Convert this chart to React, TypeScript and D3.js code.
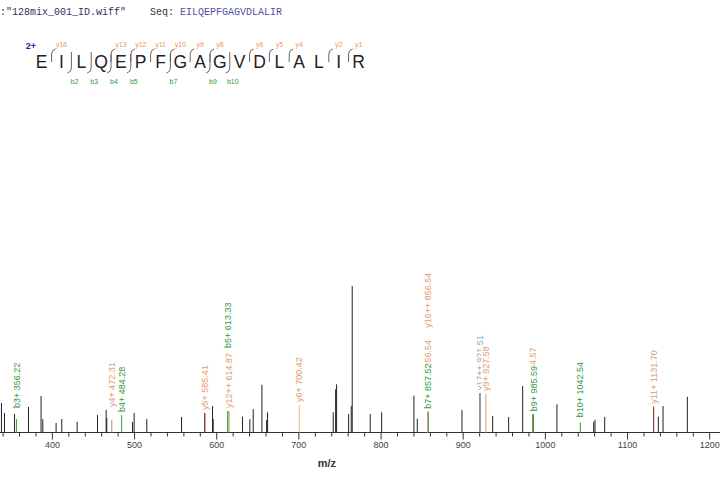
import React, { useEffect, useRef } from "react";
import * as d3 from "d3";

// ---------- header data ----------
const fileName = ':"128mix_001_ID.wiff"';
const seqLabel = "    Seq: ";
const sequence = "EILQEPFGAGVDLALIR";
const precursorCharge = "2+";
const yIonsShown = [16, 13, 12, 11, 10, 9, 8, 6, 5, 4, 2, 1];
const bIonsShown = [2, 3, 4, 5, 7, 9, 10];

// ---------- axis ----------
const xTicks = [400, 500, 600, 700, 800, 900, 1000, 1100, 1200];
const xLabel = "m/z";

// ---------- unannotated peaks (m/z, relative intensity) ----------
const peakMz = [338.0, 341.7, 353.9, 370.9, 386.2, 388.3, 404.5, 411.4, 430.1, 454.9, 465.4, 466.2, 497.5, 499.5, 514.9, 557.2, 585.4, 594.9, 595.7, 631.4, 640.3, 644.4, 655.0, 660.7, 661.9, 741.8, 744.7, 745.9, 760.5, 763.7, 764.9, 786.8, 800.7, 840.0, 844.1, 898.5, 920.4, 935.9, 955.3, 972.4, 984.6, 1014.1, 1058.8, 1060.4, 1072.2, 1131.7, 1137.5, 1143.2, 1172.8];
const peakInt = [20.1, 13.3, 12.6, 17.4, 24.9, 9.2, 6.5, 9.2, 7.2, 11.9, 15.4, 9.9, 7.2, 13.3, 9.2, 10.6, 13.3, 18.1, 9.2, 10.8, 9.0, 16.0, 32.6, 8.5, 13.8, 13.8, 29.5, 32.9, 12.6, 18.1, 100, 12.6, 13.8, 25.1, 9.4, 15.4, 26.8, 11.3, 10.6, 31.7, 12.4, 19.2, 7.2, 8.7, 10.6, 17.6, 10.8, 18.1, 24.4];

// ---------- annotated fragment ions ----------
const ionLabels = ["b3+ 356.22", "y4+ 472.31", "b4+ 484.28", "y5+ 585.41", "y12++ 614.87", "b5+ 613.33", "y6+ 700.42", "y8+ 856.54", "b7+ 857.52", "y16++ 856.54", "y17++ 921.51", "y9+ 927.58", "y10+ 984.57", "b9+ 985.59", "b10+ 1042.54", "y11+ 1131.70"];
const ionMz = [356.22, 472.31, 484.28, 585.41, 614.87, 613.33, 700.42, 856.54, 857.52, 856.54, 920.4, 927.58, 984.57, 985.59, 1042.54, 1131.7];
const ionInt = [9.2, 8.5, 11.9, 13.3, 14.7, 14.7, 18.8, 14.2, 14.2, 14.2, 26.8, 26.3, 12.4, 12.4, 7.0, 17.6];
const ionSeries = ["b", "y", "b", "y", "y", "b", "y", "y", "b", "y", "o", "y", "y", "b", "b", "y"];

// layout (pixels) — label lift above peak, and stacking
const labelLift = [8, 10, 0, 0, 0, 0, 0, 24, 0, 81, 0, 0, 14, 0, 2, 0];
const stackOn = [-1, -1, -1, -1, -1, 4, -1, -1, -1, -1, -1, -1, -1, -1, -1, -1];
const lineTone = ["b", "yd", "b", "yr", "yo", "b", "yl", "y", "b", "y", "o", "y", "yd", "b", "b", "yr"];

const COLORS: Record<string, string> = {
  b: "#2f9a3a",
  y: "#e49a68",
  o: "#90a4c0",
  yd: "#b98a60",
  yr: "#a8383a",
  yo: "#8f9a40",
  yl: "#e2b488",
};

export default function App() {
  const ref = useRef<SVGSVGElement | null>(null);

  useEffect(() => {
    const svg = d3.select(ref.current);
    svg.selectAll("*").remove();

    const x = d3.scaleLinear().domain([400, 1200]).range([52.4, 709.7]);
    const y = d3.scaleLinear().domain([0, 100]).range([432.5, 286]);
    const base = y(0);

    // ---------- header ----------
    const head = svg
      .append("text")
      .attr("x", 0)
      .attr("y", 15)
      .attr("font-family", "'Liberation Mono', 'Courier New', monospace")
      .attr("font-size", 10)
      .attr("fill", "#333355")
      .attr("xml:space", "preserve")
      .style("white-space", "pre");
    head.append("tspan").text(fileName);
    head.append("tspan").attr("fill", "#333").text(seqLabel);
    head.append("tspan").attr("fill", "#5151a6").text(sequence);

    const letters = sequence.split("");
    const sx = d3.scalePoint<number>().domain(d3.range(letters.length)).range([41.7, 358.5]);
    const step = sx.step();

    svg
      .append("text")
      .attr("x", 31)
      .attr("y", 49)
      .attr("text-anchor", "middle")
      .attr("font-family", "Arial, 'Liberation Sans', sans-serif")
      .attr("font-size", 9)
      .attr("font-weight", "bold")
      .attr("fill", "#2424b0")
      .text(precursorCharge);

    svg
      .append("g")
      .selectAll("text")
      .data(letters)
      .join("text")
      .attr("x", (_d, i) => sx(i) as number)
      .attr("y", 68)
      .attr("text-anchor", "middle")
      .attr("font-family", "Arial, 'Liberation Sans', sans-serif")
      .attr("font-size", 17.5)
      .attr("fill", "#222")
      .text((d) => d);

    const cut = (k: number) => (sx(k - 1) as number) + step / 2;
    const mk = svg.append("g").attr("fill", "none").attr("stroke", "#555").attr("stroke-width", 0.9);
    yIonsShown.forEach((n) => {
      const c = cut(letters.length - n);
      mk.append("path").attr("d", `M${c},62 L${c},54 Q${c},50 ${c + 4},49`);
    });
    bIonsShown.forEach((n) => {
      const c = cut(n);
      mk.append("path").attr("d", `M${c},${yIonsShown.includes(letters.length - n) ? 54 : 52} L${c},68 Q${c},72 ${c - 4},73`);
    });
    svg
      .append("g")
      .selectAll("text")
      .data(yIonsShown)
      .join("text")
      .attr("x", (n) => cut(letters.length - n) + 10)
      .attr("y", 47)
      .attr("text-anchor", "middle")
      .attr("font-family", "Arial, 'Liberation Sans', sans-serif")
      .attr("font-size", 7)
      .attr("fill", "#e49a68")
      .text((n) => "y" + n);
    svg
      .append("g")
      .selectAll("text")
      .data(bIonsShown)
      .join("text")
      .attr("x", (n) => cut(n) + 3)
      .attr("y", 84)
      .attr("text-anchor", "middle")
      .attr("font-family", "Arial, 'Liberation Sans', sans-serif")
      .attr("font-size", 7)
      .attr("fill", "#2f9a3a")
      .text((n) => "b" + n);

    // ---------- axis ----------
    const ax = svg.append("g").attr("stroke", "#333");
    ax.append("line").attr("x1", 0).attr("x2", 720).attr("y1", base).attr("y2", base);
    const minor = d3.range(340, 1220, 20);
    ax.selectAll("line.t")
      .data(minor)
      .join("line")
      .attr("class", "t")
      .attr("x1", (d) => x(d))
      .attr("x2", (d) => x(d))
      .attr("y1", base)
      .attr("y2", (d) => base + (d % 100 === 0 ? 7 : 4));
    svg
      .append("g")
      .selectAll("text")
      .data(xTicks)
      .join("text")
      .attr("x", (d) => x(d))
      .attr("y", 448)
      .attr("text-anchor", "middle")
      .attr("font-family", "Arial, 'Liberation Sans', sans-serif")
      .attr("font-size", 9)
      .attr("fill", "#444")
      .text((d) => d);
    svg
      .append("text")
      .attr("x", x(734))
      .attr("y", 467)
      .attr("text-anchor", "middle")
      .attr("font-family", "Arial, 'Liberation Sans', sans-serif")
      .attr("font-size", 11)
      .attr("font-weight", "bold")
      .attr("fill", "#333")
      .text(xLabel);

    // ---------- peaks ----------
    svg
      .append("g")
      .selectAll("line")
      .data(peakMz.map((m, i) => ({ m, v: peakInt[i] })))
      .join("line")
      .attr("x1", (d) => x(d.m))
      .attr("x2", (d) => x(d.m))
      .attr("y1", base)
      .attr("y2", (d) => y(d.v))
      .attr("stroke", "#222")
      .attr("stroke-width", 1);

    const ions = ionLabels.map((t, i) => ({
      t,
      m: ionMz[i],
      v: ionInt[i],
      s: ionSeries[i],
      tone: lineTone[i],
    }));
    svg
      .append("g")
      .selectAll("line")
      .data(ions)
      .join("line")
      .attr("x1", (d) => x(d.m))
      .attr("x2", (d) => x(d.m))
      .attr("y1", base)
      .attr("y2", (d) => y(d.v))
      .attr("stroke", (d) => COLORS[d.tone])
      .attr("stroke-width", 1);

    // labels (each on a white plate, so later labels hide earlier ones)
    const lg = svg.append("g");
    const ends: number[] = [];
    ions.forEach((d, i) => {
      const px = x(d.m);
      let bottom = y(d.v) - 3 - labelLift[i];
      if (stackOn[i] >= 0) bottom = ends[stackOn[i]] - 5;
      const g = lg.append("g").attr("transform", `translate(${px},${bottom}) rotate(-90)`);
      const plate = g.append("rect").attr("fill", "#fff");
      const t = g
        .append("text")
        .attr("dy", "0.35em")
        .attr("font-family", "Arial, 'Liberation Sans', sans-serif")
        .attr("font-size", 9)
        .attr("fill", COLORS[d.s])
        .text(d.t);
      const len = (t.node() as SVGTextElement).getComputedTextLength();
      plate.attr("x", 0).attr("y", -4.5).attr("width", len).attr("height", 9);
      ends[i] = bottom - len;
    });
  }, []);

  return (
    <svg
      ref={ref}
      width={720}
      height={480}
      style={{ position: "absolute", left: 0, top: 0, background: "#fff" }}
    />
  );
}
